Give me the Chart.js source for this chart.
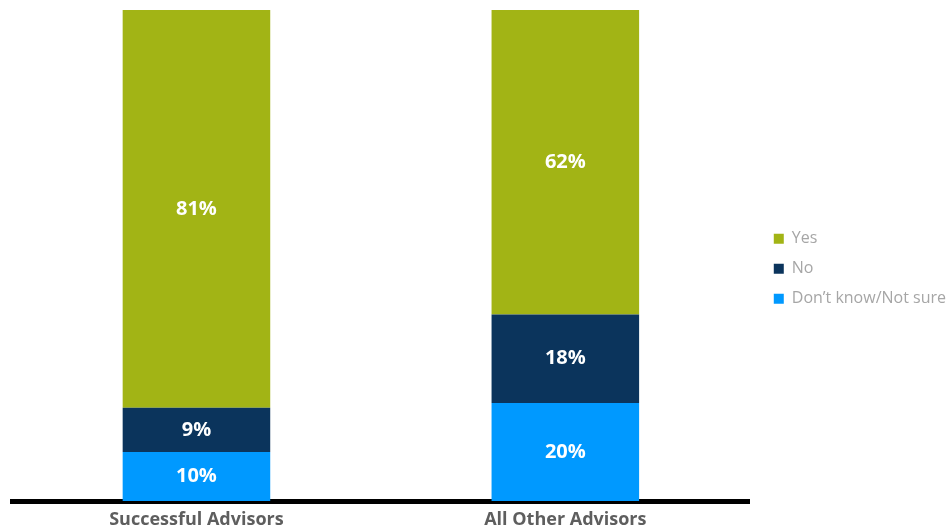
<!DOCTYPE html>
<html>
<head>
<meta charset="utf-8">
<script src="https://cdn.jsdelivr.net/npm/chart.js@4"></script>
<style>
  html, body { margin: 0; padding: 0; background: #ffffff; }
  #wrap { width: 949px; height: 531px; position: relative; }
</style>
</head>
<body>
<div id="wrap"><canvas id="c"></canvas></div>
<script>
// Survey responses by advisor group (percent)
const categories = ['Successful Advisors', 'All Other Advisors'];
const dontKnow = [10, 20];
const no = [9, 18];
const yes = [81, 62];
const seriesNames = ['Don\u2019t know/Not sure', 'No', 'Yes'];
const seriesColors = ['#0099FF', '#0B345C', '#A2B415'];

// Writes each segment's value in white at its centre
const valueLabels = {
  id: 'valueLabels',
  afterDatasetsDraw(chart) {
    const ctx = chart.ctx;
    ctx.save();
    ctx.fillStyle = '#ffffff';
    ctx.font = 'bold 20px "Open Sans", Roboto, sans-serif';
    ctx.textAlign = 'center';
    ctx.textBaseline = 'middle';
    chart.data.datasets.forEach((ds, i) => {
      chart.getDatasetMeta(i).data.forEach((bar, j) => {
        const p = bar.getProps(['x', 'y', 'base'], true);
        ctx.fillText(ds.data[j] + '%', p.x, (p.y + p.base) / 2);
      });
    });
    ctx.restore();
  }
};

new Chart(document.getElementById('c'), {
  type: 'bar',
  data: {
    labels: categories,
    datasets: [
      { label: seriesNames[0], data: dontKnow, backgroundColor: seriesColors[0] },
      { label: seriesNames[1], data: no, backgroundColor: seriesColors[1] },
      { label: seriesNames[2], data: yes, backgroundColor: seriesColors[2] }
    ]
  },
  options: {
    responsive: true,
    maintainAspectRatio: false,
    animation: false,
    layout: { padding: { left: 12, top: 10, right: -7, bottom: -7 } },
    datasets: { bar: { barPercentage: 0.4, categoryPercentage: 1.0 } },
    scales: {
      x: {
        stacked: true,
        z: 1,
        grid: { display: false, drawTicks: false },
        border: { display: true, color: '#000000', width: 5 },
        ticks: {
          color: '#5E5E5E',
          padding: 18,
          font: { family: '"Open Sans", Roboto, sans-serif', size: 18, weight: 'bold', lineHeight: 0.05 }
        }
      },
      y: {
        stacked: true,
        display: true,
        position: 'right',
        min: 0,
        max: 100,
        grid: { display: false },
        border: { display: false },
        ticks: { display: false },
        // blank strip between the plot and the legend
        afterFit(scale) { scale.width = 10; }
      }
    },
    plugins: {
      legend: {
        position: 'right',
        fullSize: false,
        reverse: true,
        // empty title: a small spacer above the legend entries
        title: { display: true, text: '', padding: 6, font: { size: 12 } },
        labels: {
          boxWidth: 10,
          boxHeight: 10,
          padding: 14,
          color: '#A6A6A6',
          font: { family: '"Open Sans", Roboto, sans-serif', size: 16 }
        }
      },
      tooltip: { enabled: false }
    }
  },
  plugins: [valueLabels]
});
</script>
</body>
</html>
